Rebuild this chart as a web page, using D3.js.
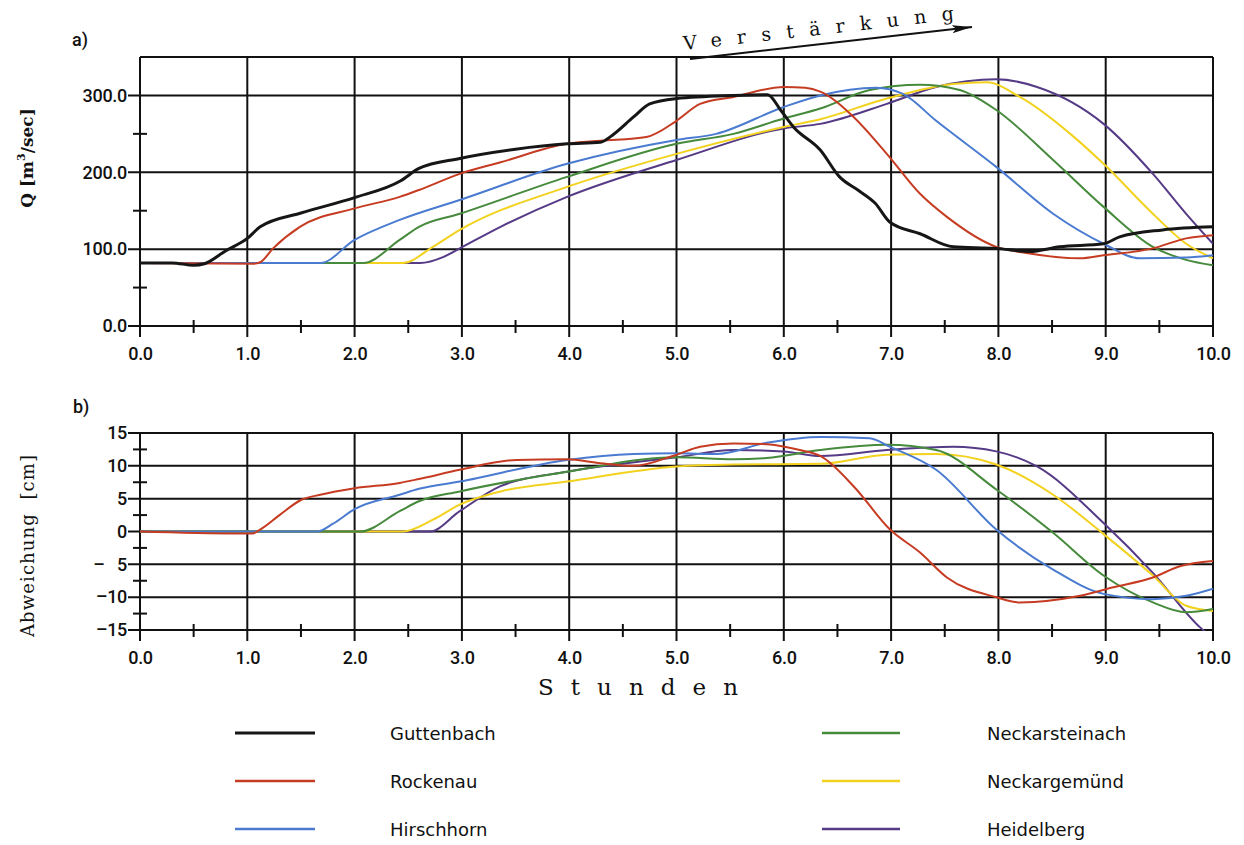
<!DOCTYPE html>
<html>
<head>
<meta charset="utf-8">
<script src="https://cdn.jsdelivr.net/npm/d3@7"></script>
<style>
  body { margin: 0; background: #fff; }
  text { fill: #111; }
</style>
</head>
<body>
<script>
// station names (legend order)
const stations = ["Guttenbach", "Rockenau", "Hirschhorn", "Neckarsteinach", "Neckargemünd", "Heidelberg"];
const colors = ["#161616", "#c63c22", "#4a7bd0", "#468a3c", "#f2d21e", "#553a86"];

// a) discharge Q [m3/sec] over hours
const guttenbachQ = [[0,82],[0.3,82],[0.5,79],[0.6,81],[0.8,98],[1.0,114],[1.12,129],[1.5,147],[2.0,167],[2.43,189],[2.6,205],[2.98,218],[3.5,230],[3.98,237],[4.29,239],[4.4,248],[4.6,272],[4.75,289],[5.0,296],[5.53,300],[5.85,301],[5.97,281],[6.09,259],[6.34,229],[6.52,194],[6.7,176],[6.85,160],[6.99,135],[7.27,120],[7.58,103],[7.98,101],[8.29,97],[8.57,103],[8.98,107],[9.13,116],[9.53,125],[10,129]];
const rockenauQ = [[0,82],[1.05,81],[1.12,83],[1.24,101],[1.49,129],[2.0,153],[2.42,168],[2.6,177],[2.98,198],[3.36,213],[3.98,237],[4.29,241],[4.72,246],[5.0,267],[5.22,289],[5.53,298],[6.0,311],[6.2,310],[6.34,305],[6.65,272],[6.96,224],[7.27,172],[7.52,142],[7.98,103],[8.26,95],[8.76,88],[8.98,92],[9.44,101],[9.75,114],[10,118]];
const hirschhornQ = [[0,82],[1.68,82],[2.0,112],[2.42,138],[2.98,164],[3.98,211],[5.0,242],[5.37,250],[6.0,285],[6.34,300],[6.86,310],[7.11,302],[7.42,267],[7.98,207],[8.51,146],[8.98,107],[9.32,88],[9.75,89],[10,92]];
const neckarsteinachQ = [[0,82],[2.08,82],[2.42,112],[2.6,129],[2.98,146],[3.98,194],[5.0,237],[5.53,250],[6.0,270],[6.34,283],[6.8,307],[7.27,314],[7.64,307],[7.98,281],[8.51,216],[8.98,155],[9.44,103],[9.75,86],[10,79]];
const neckargemuendQ = [[0,82],[2.45,82],[2.73,103],[2.98,125],[3.98,181],[5.0,224],[6.0,259],[6.34,269],[6.96,296],[7.58,315],[7.89,317],[8.2,298],[8.67,250],[8.98,211],[9.44,146],[9.75,107],[10,88]];
const heidelbergQ = [[0,82],[2.61,82],[2.83,90],[2.98,101],[3.36,129],[3.98,168],[5.0,216],[6.0,257],[6.34,263],[6.96,289],[7.42,311],[7.98,321],[8.36,311],[8.98,263],[9.44,198],[9.75,146],[10,107]];

// b) deviation [cm] over hours
const rockenauD = [[0,0],[0.9,-0.3],[1.05,-0.3],[1.12,0.3],[1.3,2.5],[1.5,4.8],[1.68,5.6],[2.0,6.6],[2.42,7.4],[2.6,8.0],[2.98,9.4],[3.51,10.9],[3.98,11.0],[4.29,10.4],[4.6,10.0],[5.0,11.7],[5.22,12.9],[5.53,13.4],[5.84,13.3],[6.15,12.4],[6.34,11.5],[6.65,6.9],[6.99,0.3],[7.27,-3.2],[7.52,-7.0],[7.98,-10.0],[8.2,-10.8],[8.76,-9.8],[9.07,-8.5],[9.44,-7.0],[9.69,-5.3],[10,-4.5]];
const hirschhornD = [[0,0],[1.65,0],[1.8,1.2],[2.0,3.4],[2.42,5.6],[2.6,6.5],[2.98,7.6],[3.98,10.9],[4.6,11.8],[5.0,11.9],[5.37,11.8],[5.84,13.5],[6.34,14.4],[6.8,14.2],[6.99,12.9],[7.42,9.4],[7.98,0.3],[8.51,-5.8],[8.98,-9.5],[9.44,-10.3],[9.75,-9.8],[10,-8.7]];
const neckarsteinachD = [[0,0],[2.05,0],[2.42,3.1],[2.6,4.6],[2.98,6.1],[3.98,9.1],[5.0,11.3],[5.53,11.0],[5.84,11.2],[6.34,12.4],[6.96,13.2],[7.42,12.4],[7.98,6.4],[8.51,-0.2],[8.98,-6.7],[9.44,-10.8],[9.75,-12.3],[10,-11.8]];
const neckargemuendD = [[0,0],[2.45,0],[2.73,1.8],[2.98,4.1],[3.36,6.1],[3.98,7.6],[5.0,9.9],[5.53,10.2],[6.34,10.3],[6.96,11.7],[7.42,11.8],[7.98,10.2],[8.51,5.6],[8.98,-0.4],[9.44,-6.7],[9.75,-11.3],[10,-12.1]];
const heidelbergD = [[0,0],[2.7,0],[2.98,3.1],[3.36,6.9],[3.98,9.1],[5.0,11.3],[5.53,12.4],[6.0,12.2],[6.34,11.5],[6.96,12.4],[7.58,12.9],[7.98,12.2],[8.36,9.9],[8.98,1.3],[9.44,-6.3],[9.88,-14.6],[9.95,-15.6]];

const hourTicks = d3.range(0, 10.01, 1);
const hourMinor = d3.range(0.5, 10, 1);
const qTicks = [0, 100, 200, 300];
const qMinor = [50, 150, 250];
const devTicks = [-15, -10, -5, 0, 5, 10, 15];
const devMinor = [-12.5, -7.5, -2.5, 2.5, 7.5, 12.5];

const width = 1244, height = 845;
const svg = d3.select("body").append("svg")
  .attr("width", width)
  .attr("height", height);

const tickFont = "Roboto, 'DejaVu Sans', sans-serif";
const legendFont = "'DejaVu Sans', sans-serif";
const serifFont = "'DejaVu Serif', 'Liberation Serif', serif";

function panel(opts) {
  const x = d3.scaleLinear().domain([0, 10]).range([140, 1213]);
  const y = d3.scaleLinear().domain(opts.yDomain).range(opts.yRange);
  const g = svg.append("g");
  const [y0, y1] = opts.yRange;

  // grid: horizontal lines (extend left as ticks)
  g.append("g").selectAll("line")
    .data(opts.yTicks)
    .join("line")
    .attr("x1", x(0) - 12).attr("x2", x(10))
    .attr("y1", d => y(d)).attr("y2", d => y(d))
    .attr("stroke", "#111").attr("stroke-width", 2);
  // vertical lines (extend below as ticks)
  g.append("g").selectAll("line")
    .data(hourTicks)
    .join("line")
    .attr("x1", d => x(d)).attr("x2", d => x(d))
    .attr("y1", y1).attr("y2", y0 + 11)
    .attr("stroke", "#111").attr("stroke-width", 2);
  // frame top
  g.append("line")
    .attr("x1", x(0)).attr("x2", x(10))
    .attr("y1", y1).attr("y2", y1)
    .attr("stroke", "#111").attr("stroke-width", 2);

  // minor ticks
  g.append("g").selectAll("line")
    .data(hourMinor)
    .join("line")
    .attr("x1", d => x(d)).attr("x2", d => x(d))
    .attr("y1", y0 - 6).attr("y2", y0 + 7)
    .attr("stroke", "#111").attr("stroke-width", 2);
  g.append("g").selectAll("line")
    .data(opts.yMinor)
    .join("line")
    .attr("x1", x(0) - 7).attr("x2", x(0) + 7)
    .attr("y1", d => y(d)).attr("y2", d => y(d))
    .attr("stroke", "#111").attr("stroke-width", 2);

  // axes labels via d3 axes (no lines, gridlines drawn above)
  const xAxis = g.append("g")
    .attr("transform", `translate(0,${y0})`)
    .call(d3.axisBottom(x).tickValues(hourTicks).tickFormat(d3.format(".1f")).tickSize(0).tickPadding(21));
  xAxis.select(".domain").remove();
  xAxis.selectAll("text")
    .attr("font-family", tickFont).attr("font-size", 18).attr("font-weight", 500)
    .attr("letter-spacing", -0.3)
    .style("fill", "#111");

  const yAxis = g.append("g")
    .attr("transform", `translate(${x(0) - 12},0)`)
    .call(d3.axisLeft(y).tickValues(opts.yLabelTicks).tickFormat(opts.yFormat).tickSize(0).tickPadding(1));
  yAxis.select(".domain").remove();
  yAxis.selectAll("text")
    .attr("font-family", tickFont).attr("font-size", 18).attr("font-weight", 500)
    .attr("letter-spacing", -0.3)
    .style("white-space", "pre")
    .style("fill", "#111");

  // curves
  const clipId = "clip" + opts.id;
  svg.append("clipPath").attr("id", clipId)
    .append("rect")
    .attr("x", x(0)).attr("y", y1 - 1)
    .attr("width", x(10) - x(0)).attr("height", y0 - y1 + 2);

  const line = d3.line()
    .x(d => x(d[0]))
    .y(d => y(d[1]))
    .curve(d3.curveMonotoneX);

  // draw colored first, black on top
  const order = opts.series.map((s, i) => i).filter(i => opts.series[i]).reverse();
  g.append("g").attr("clip-path", `url(#${clipId})`)
    .selectAll("path")
    .data(order)
    .join("path")
    .attr("d", i => line(opts.series[i]))
    .attr("fill", "none")
    .attr("stroke", i => colors[i])
    .attr("stroke-width", i => i === 0 ? 3 : 2)
    .attr("stroke-linejoin", "round");

  return { x, y };
}

panel({
  id: "a",
  yDomain: [0, 350], yRange: [326, 57],
  yTicks: qTicks, yLabelTicks: qTicks, yMinor: qMinor,
  yFormat: d3.format(".1f"),
  series: [guttenbachQ, rockenauQ, hirschhornQ, neckarsteinachQ, neckargemuendQ, heidelbergQ]
});

panel({
  id: "b",
  yDomain: [-15, 15], yRange: [630, 433],
  yTicks: devTicks, yLabelTicks: devTicks, yMinor: devMinor,
  yFormat: d => d === -5 ? "–   5" : d < 0 ? "–" + Math.abs(d) : String(d),
  series: [null, rockenauD, hirschhornD, neckarsteinachD, neckargemuendD, heidelbergD]
});

// panel letters
svg.append("text").attr("x", 72).attr("y", 46).text("a)")
  .attr("font-family", tickFont).attr("font-size", 18).attr("font-weight", 500);
svg.append("text").attr("x", 73).attr("y", 413).text("b)")
  .attr("font-family", tickFont).attr("font-size", 18).attr("font-weight", 500);

// y titles
const qTitle = svg.append("text")
  .attr("transform", "translate(33,158) rotate(-90)")
  .attr("text-anchor", "middle")
  .attr("font-family", serifFont).attr("font-size", 17).attr("font-weight", "bold");
qTitle.append("tspan").text("Q  [m");
qTitle.append("tspan").text("3").attr("font-size", 11).attr("dy", -8);
qTitle.append("tspan").text("/sec]").attr("dy", 8);

svg.append("text")
  .attr("transform", "translate(34,546) rotate(-90)")
  .attr("text-anchor", "middle")
  .attr("font-family", serifFont).attr("font-size", 18)
  .attr("textLength", 182).attr("lengthAdjust", "spacing")
  .style("white-space", "pre")
  .text("Abweichung  [cm]");

// x title
svg.append("text")
  .attr("x", 538).attr("y", 695)
  .attr("font-family", serifFont).attr("font-size", 23)
  .attr("textLength", 200).attr("lengthAdjust", "spacing")
  .text("Stunden");

// Verstärkung arrow
const defs = svg.append("defs");
defs.append("marker")
  .attr("id", "arrow")
  .attr("viewBox", "0 0 20 8")
  .attr("refX", 20).attr("refY", 4)
  .attr("markerWidth", 20).attr("markerHeight", 8)
  .attr("markerUnits", "userSpaceOnUse")
  .attr("orient", "auto")
  .append("path")
  .attr("d", "M0,0 L20,4 L0,8 L4,4 Z")
  .attr("fill", "#111");
svg.append("line")
  .attr("x1", 690).attr("y1", 59).attr("x2", 972).attr("y2", 27)
  .attr("stroke", "#111").attr("stroke-width", 2)
  .attr("marker-end", "url(#arrow)");
svg.append("text")
  .attr("transform", "translate(684,50) rotate(-6.4)")
  .attr("font-family", serifFont).attr("font-size", 19)
  .attr("textLength", 272).attr("lengthAdjust", "spacing")
  .text("Verstärkung");

// legend
const legend = svg.append("g").selectAll("g")
  .data(stations)
  .join("g")
  .attr("transform", (d, i) => `translate(${i < 3 ? 235 : 822},${733 + (i % 3) * 48})`);
legend.append("line")
  .attr("x1", 0).attr("x2", (d, i) => i < 3 ? 80 : 78)
  .attr("stroke", (d, i) => colors[i])
  .attr("stroke-width", (d, i) => i === 0 ? 3 : 2.5);
legend.append("text")
  .attr("x", (d, i) => i < 3 ? 155 : 165)
  .attr("y", 7)
  .attr("font-family", legendFont).attr("font-size", 18)
  .text(d => d);
</script>
</body>
</html>
